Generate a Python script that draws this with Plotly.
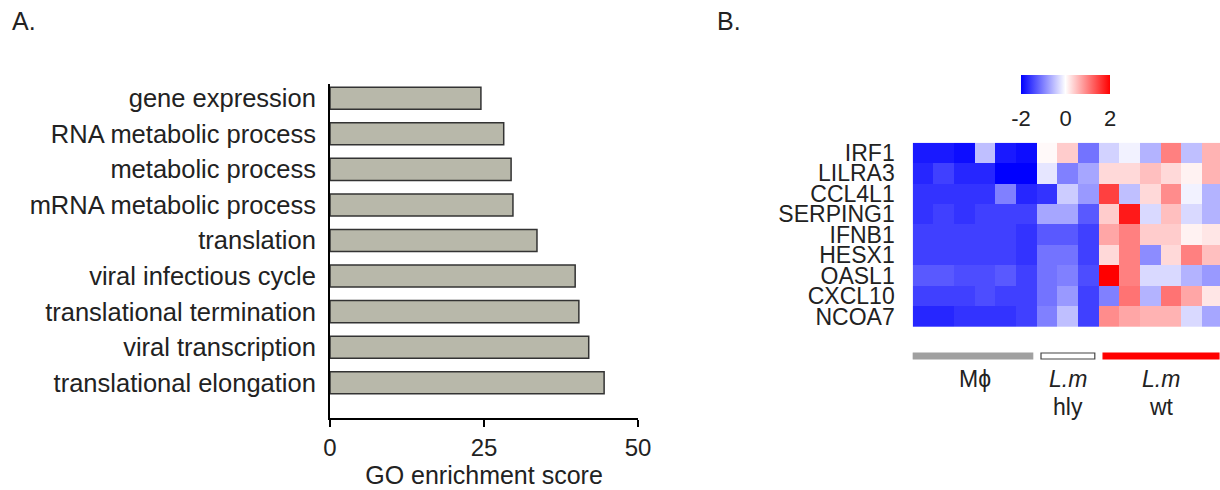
import plotly.graph_objects as go

W, H = 1220, 490

# ---- Panel A data ----
go_terms = ["gene expression", "RNA metabolic process", "metabolic process",
            "mRNA metabolic process", "translation", "viral infectious cycle",
            "translational termination", "viral transcription",
            "translational elongation"]
go_scores = [24.5, 28.2, 29.4, 29.7, 33.6, 39.8, 40.4, 42.0, 44.5]
x_ticks = [0, 25, 50]

# ---- Panel B data ----
genes = ["IRF1", "LILRA3", "CCL4L1", "SERPING1", "IFNB1", "HESX1", "OASL1", "CXCL10", "NCOA7"]
IRF1     = [-1.8, -1.8, -1.9, -0.5, -1.8, -1.9,  0.05,  0.4, -1.1, -0.35, -0.1, -0.6,  1.0, -0.5,  0.6]
LILRA3   = [-1.7, -1.5, -1.7, -1.7, -2.0, -2.0, -0.2, -1.0, -0.7,  0.3,  0.3,  0.5,  0.3,  0.1,  0.6]
CCL4L1   = [-1.6, -1.6, -1.6, -1.6, -1.0, -1.7, -1.6, -0.4, -0.8,  1.5, -0.5,  0.3,  0.9, -0.1, -0.6]
SERPING1 = [-1.6, -1.5, -1.6, -1.5, -1.5, -1.5, -0.7, -0.7, -1.3,  0.4,  1.8, -0.3,  0.5, -0.3, -0.6]
IFNB1    = [-1.5, -1.5, -1.5, -1.5, -1.5, -1.6, -1.3, -1.3, -1.5,  0.7,  1.0,  0.4,  0.4,  0.1,  0.2]
HESX1    = [-1.5, -1.5, -1.5, -1.5, -1.5, -1.6, -1.1, -1.1, -1.5,  0.3,  1.0, -0.9,  0.3,  1.0,  0.5]
OASL1    = [-1.3, -1.3, -1.4, -1.4, -1.3, -1.5, -1.1, -1.0, -1.4,  2.0,  1.0, -0.3, -0.3, -0.6, -0.8]
CXCL10   = [-1.5, -1.5, -1.5, -1.4, -1.5, -1.5, -1.1, -0.8, -1.5, -1.0,  1.1, -0.6,  1.1,  0.7,  0.2]
NCOA7    = [-1.7, -1.7, -1.6, -1.6, -1.6, -1.5, -1.0, -0.5, -1.5,  0.9,  0.7,  0.6,  0.6, -0.3, -0.7]
z_rows = [IRF1, LILRA3, CCL4L1, SERPING1, IFNB1, HESX1, OASL1, CXCL10, NCOA7]
columns = list(range(15))
# sample groups: (label line 1, label line 2, first column, last column, colour)
groups = [("Mϕ", "", 0, 5, "gray"),
          ("<i>L.m</i>", "hly", 6, 8, "white"),
          ("<i>L.m</i>", "wt", 9, 14, "red")]
cbar_ticks = [-2, 0, 2]

FONT = "Liberation Sans, Arial, sans-serif"
TXT = "#222222"

def px_x(p):
    return p / W

def px_y(p):
    return 1 - p / H

fig = go.Figure()

fig.add_trace(go.Bar(
    x=go_scores, y=go_terms, orientation="h", width=0.62,
    marker=dict(color="#b8b8aa", line=dict(color="#333333", width=1.5)),
    xaxis="x", yaxis="y", showlegend=False,
))

fig.add_trace(go.Heatmap(
    z=z_rows, x=columns, y=genes, xaxis="x2", yaxis="y2",
    zmin=-2, zmax=2,
    colorscale=[[0, "rgb(0,0,255)"], [0.5, "rgb(255,255,255)"], [1, "rgb(255,0,0)"]],
    colorbar=dict(
        orientation="h", x=px_x(1065.5), xanchor="center",
        y=px_y(75), yanchor="top", len=89, lenmode="pixels",
        thickness=19, tickvals=cbar_ticks, ticktext=[str(t) for t in cbar_ticks],
        tickfont=dict(size=22, color=TXT, family=FONT),
        outlinewidth=0, ticks="outside", ticklen=6, tickcolor="white",
        xpad=0, ypad=0,
    ),
))

shapes = []
annotations = []
for lab1, lab2, c0, c1, col in groups:
    x0 = c0 - 0.5 + (0.0 if c0 == 0 else 0.2)
    x1 = c1 + 0.5 - 0.2
    fill = "#a0a0a0" if col == "gray" else col
    shapes.append(dict(
        type="rect", xref="x2", yref="paper", x0=x0, x1=x1,
        y0=px_y(359), y1=px_y(353), fillcolor=fill,
        line=dict(color="#444444" if col == "white" else fill, width=1.2),
    ))
    xc = (c0 + c1) / 2
    annotations.append(dict(xref="x2", yref="paper", x=xc, y=px_y(379), text=lab1,
                            showarrow=False, font=dict(size=23, color=TXT, family=FONT),
                            xanchor="center", yanchor="middle"))
    if lab2:
        annotations.append(dict(xref="x2", yref="paper", x=xc, y=px_y(407), text=lab2,
                                showarrow=False, font=dict(size=23, color=TXT, family=FONT),
                                xanchor="center", yanchor="middle"))

annotations.append(dict(xref="paper", yref="paper", x=px_x(10), y=px_y(21), text="A.",
                        showarrow=False, xanchor="left", yanchor="middle",
                        font=dict(size=25, color=TXT, family=FONT)))
annotations.append(dict(xref="paper", yref="paper", x=px_x(715), y=px_y(21), text="B.",
                        showarrow=False, xanchor="left", yanchor="middle",
                        font=dict(size=25, color=TXT, family=FONT)))

fig.update_layout(
    width=W, height=H, margin=dict(l=0, r=0, t=0, b=0, autoexpand=False),
    paper_bgcolor="white", plot_bgcolor="white",
    font=dict(family=FONT, color=TXT),
    shapes=shapes, annotations=annotations,
    xaxis=dict(domain=[px_x(330), px_x(638)], range=[0, 50], tickvals=x_ticks,
               showgrid=False, zeroline=False, showline=True, linecolor="black",
               linewidth=2, ticks="outside", ticklen=7, tickwidth=2, tickcolor="black",
               tickfont=dict(size=24, color=TXT, family=FONT), automargin=False,
               title=dict(text="GO enrichment score", font=dict(size=25, color=TXT, family=FONT),
                          standoff=4),
               anchor="y"),
    yaxis=dict(domain=[px_y(418), px_y(84)], range=[8.99, -0.4], type="category",
               showgrid=False, zeroline=False, showline=True, linecolor="black",
               linewidth=2, ticks="", ticklabelstandoff=7, automargin=False,
               tickfont=dict(size=25.5, color=TXT, family=FONT), anchor="x"),
    xaxis2=dict(domain=[px_x(912.7), 1], range=[-0.5, 14.35], visible=False,
                anchor="y2"),
    yaxis2=dict(domain=[px_y(327), px_y(142.7)], autorange="reversed", type="category",
                tickmode="array", tickvals=genes, ticktext=genes,
                showgrid=False, zeroline=False, showline=False, ticks="",
                ticklabelstandoff=17, automargin=False,
                tickfont=dict(size=23, color=TXT, family=FONT), anchor="x2"),
)

fig.write_html("out.html", config={"displayModeBar": False},
               post_script="document.body.style.margin='0';document.body.style.padding='0';")
